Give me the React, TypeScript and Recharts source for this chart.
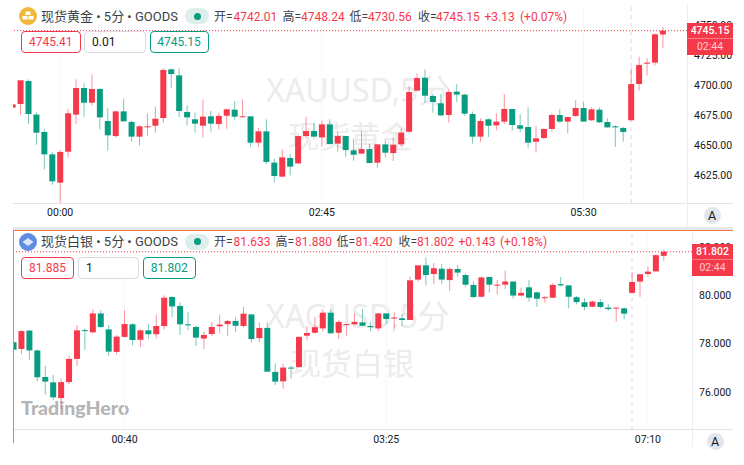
import { Bar, ComposedChart, ReferenceLine, XAxis, YAxis } from "recharts";

const RED = "#F6384B";
const GREEN = "#089C80";
const LINE = "#E0E3EB";
const TEXT = "#131722";
const UI_FONT = "Roboto, 'Noto Sans CJK SC', sans-serif";

// ── Gold, 5 min ──────────────────────────────────────────────────────
const goldOpen = [
  4681.2, 4684.2, 4703.3, 4675.4, 4661, 4642.4, 4618.9, 4644.6, 4675.4, 4697.5, 4685.3, 4696.7, 4670.1, 4657.6, 4678.1,
  4669.3, 4657.1, 4665.1, 4666.2, 4672.6, 4713, 4708, 4677.6, 4671.5, 4666.2, 4674, 4667.6, 4674.5, 4679.5, 4673.4, 4674,
  4652.1, 4661.5, 4635.5, 4623.9, 4639.4, 4634.9, 4657.6, 4661.8, 4656.5, 4667.3, 4651.3, 4657.6, 4645.7, 4643, 4646.8,
  4635.5, 4650.7, 4643.5, 4650.7, 4661.2, 4695.3, 4706.1, 4690.9, 4684.8, 4675.1, 4694.5, 4692, 4675.9, 4657.1, 4671.5,
  4666.5, 4669.6, 4680.1, 4666.5, 4665.1, 4652.9, 4656, 4663.5, 4675.1, 4669.6, 4674.3, 4680.9, 4670.7, 4679.5, 4669.3,
  4665.7, 4664.3, 4670.7, 4700.8, 4717.7, 4718.6, 4742.01,
];
const goldHigh = [
  4683.9, 4703.9, 4704.7, 4677.3, 4663.2, 4644.4, 4646, 4680.3, 4704.7, 4701.4, 4708.9, 4697.2, 4680.6, 4678.7, 4688.7,
  4670.4, 4666.5, 4676.5, 4682, 4713.8, 4713.8, 4713.8, 4683.1, 4677, 4688.1, 4678.4, 4677, 4680.3, 4686.7, 4688.1, 4674,
  4664.3, 4671.5, 4638.8, 4646.6, 4642.7, 4658.2, 4673.7, 4668.7, 4670.4, 4671.5, 4661, 4657.6, 4655.4, 4661.8, 4651,
  4650.7, 4654.3, 4656.5, 4664, 4699.2, 4709.7, 4713, 4692.5, 4692.5, 4696.7, 4700.6, 4692.5, 4677.9, 4672.3, 4672.3,
  4676.5, 4692.5, 4680.1, 4675.9, 4681.5, 4666, 4664, 4676.5, 4680.1, 4673.7, 4687.3, 4686.2, 4681.5, 4681.5, 4672.3,
  4666.8, 4665.4, 4713.8, 4723.5, 4722.2, 4742.9, 4748.24,
];
const goldLow = [
  4681.2, 4675.4, 4667.6, 4650.4, 4630, 4617.2, 4602, 4639.9, 4667.9, 4673.7, 4682.8, 4663.2, 4645.7, 4656.3, 4669.8,
  4652.9, 4649.6, 4657.6, 4660.4, 4668.7, 4697.8, 4673.4, 4666.5, 4660.4, 4656.5, 4661.2, 4662.9, 4663.7, 4671.2, 4673.4,
  4648.8, 4648.5, 4634.4, 4619.2, 4623.6, 4625, 4634.7, 4655.7, 4657.1, 4648.8, 4650.4, 4644.6, 4640.5, 4637.2, 4643,
  4635.2, 4631.3, 4639.9, 4636.9, 4648.8, 4661, 4694.7, 4685.3, 4677, 4674.3, 4668.7, 4685.9, 4674.5, 4651.3, 4652.9,
  4656.8, 4662.4, 4667.6, 4662.1, 4661, 4648, 4643.8, 4654.9, 4661.2, 4668.7, 4659.9, 4673.7, 4669.6, 4670.1, 4668.4,
  4664.8, 4648.5, 4652.9, 4670.7, 4695.3, 4707.8, 4716.1, 4730.56,
];
const goldClose = [
  4683.9, 4703.9, 4675.9, 4660.4, 4642.4, 4620, 4644.4, 4676.5, 4697.5, 4685.3, 4696.7, 4673.1, 4658.2, 4678.1, 4669.8,
  4657.1, 4665.7, 4665.7, 4672, 4712.5, 4709.1, 4678.4, 4673.1, 4667.9, 4673.7, 4667.9, 4674.3, 4679.8, 4673.7, 4674,
  4652.1, 4661.5, 4636.1, 4624.4, 4639.9, 4632.2, 4657.6, 4661.8, 4657.1, 4667.3, 4651, 4657.6, 4646, 4642.1, 4646.8,
  4635.2, 4650.7, 4643.8, 4650.4, 4660.4, 4694.2, 4705.8, 4691.1, 4685.9, 4674.8, 4694.2, 4692, 4676.2, 4657.1, 4670.1,
  4666.2, 4669.6, 4680.1, 4666.8, 4663.7, 4652.1, 4655.7, 4663.5, 4675.1, 4669.6, 4673.4, 4680.9, 4669.6, 4679.8, 4669,
  4664.8, 4664.8, 4661, 4700.8, 4716.6, 4718.6, 4742.1, 4745.15,
];
const goldPriceTicks = [4625, 4650, 4675, 4700, 4725, 4750];
const goldTimeIndex = [6, 39, 72];
const goldTimeLabels = ["00:00", "02:45", "05:30"];
const goldSessionIndex = 78;

// ── Silver, 5 min ────────────────────────────────────────────────────
const silverOpen = [
  78.06, 77.78, 78.54, 77.72, 76.62, 76.4, 75.75, 76.41, 77.37, 78.56, 78.47, 79.25, 78.59, 77.66, 78.28, 78.8, 78.16,
  78.55, 78.39, 78.73, 79.93, 79.56, 78.8, 78.69, 78.21, 78.4, 78.72, 78.81, 78.94, 78.73, 79.21, 78.23, 78.65, 76.83,
  76.44, 77.01, 77.03, 78.33, 78.45, 78.63, 79.28, 78.45, 78.79, 78.8, 78.88, 78.73, 78.63, 79.25, 79.05, 79.05, 78.98,
  80.65, 81.24, 80.88, 81.1, 80.63, 81.09, 80.84, 80.43, 79.94, 80.76, 80.41, 80.44, 80.57, 79.99, 80.33, 80.12, 79.89,
  79.9, 80.46, 80.41, 79.92, 79.71, 79.53, 79.72, 79.49, 79.45, 79.46, 80.1, 80.57, 80.88, 80.99, 81.633,
];
const silverHigh = [
  78.06, 78.55, 78.55, 77.76, 77.08, 76.7, 76.56, 77.5, 78.77, 78.63, 79.41, 79.39, 78.77, 78.36, 79.38, 78.84, 78.59,
  78.81, 79.19, 80, 79.96, 79.71, 79.3, 78.74, 78.5, 78.88, 79.19, 78.98, 79.09, 79.52, 79.21, 78.88, 78.88, 77.19, 77.17,
  77.1, 78.29, 78.72, 79.1, 79.42, 79.42, 78.97, 78.83, 79.25, 79.43, 78.91, 79.25, 79.25, 79.3, 79.21, 80.77, 81.25,
  81.57, 81.34, 81.3, 81.16, 81.25, 80.91, 80.57, 80.77, 80.77, 80.63, 81.02, 80.57, 80.32, 80.63, 80.15, 79.97, 80.5,
  80.76, 80.43, 79.97, 79.88, 79.78, 79.85, 79.63, 79.49, 79.5, 80.95, 80.9, 81.19, 81.7, 81.88,
];
const silverLow = [
  77.75, 77.57, 77.34, 76.43, 75.9, 75.65, 75.3, 76.32, 77.08, 77.74, 78.43, 78.63, 77.49, 77.56, 78.25, 77.92, 77.86,
  78.19, 78.22, 78.59, 79.1, 78.36, 78.56, 77.9, 77.78, 78.33, 78.45, 78.33, 78.48, 78.66, 78.06, 78.06, 76.84, 76.29,
  76.14, 76.55, 77.02, 78.14, 78.41, 78.5, 78.41, 78.19, 78.33, 78.77, 78.74, 78.5, 78.52, 78.81, 78.63, 78.73, 78.98,
  80.57, 80.4, 80.47, 80.47, 80.18, 80.77, 80.36, 79.88, 79.92, 80.11, 80.04, 80.25, 79.86, 79.96, 79.74, 79.52, 79.7,
  79.88, 80.36, 79.46, 79.63, 79.39, 79.5, 79.46, 79.37, 78.91, 79.02, 80.08, 79.93, 80.77, 80.98, 81.42,
];
const silverClose = [
  77.75, 78.52, 77.72, 76.61, 76.43, 75.78, 76.41, 77.37, 78.55, 78.54, 79.25, 78.69, 77.67, 78.29, 78.81, 78.15, 78.55,
  78.39, 78.73, 79.9, 79.54, 78.8, 78.76, 78.25, 78.36, 78.69, 78.79, 78.94, 78.74, 79.24, 78.19, 78.65, 76.84, 76.43,
  77.01, 76.97, 78.28, 78.44, 78.68, 79.28, 78.43, 78.9, 78.81, 78.9, 78.74, 78.68, 79.25, 79.02, 79.08, 78.98, 80.62,
  81.24, 80.84, 81.12, 80.65, 81.09, 80.94, 80.44, 79.93, 80.74, 80.44, 80.44, 80.57, 79.99, 80.1, 79.9, 79.86, 79.92,
  80.43, 80.41, 79.94, 79.72, 79.52, 79.74, 79.52, 79.43, 79.49, 79.24, 80.55, 80.87, 80.98, 81.66, 81.802,
];
const silverPriceTicks = [76, 78, 80, 82];
const silverTimeIndex = [14, 47, 80];
const silverTimeLabels = ["00:40", "03:25", "07:10"];
const silverSessionIndex = 78;

function buildRows(open: number[], high: number[], low: number[], close: number[]) {
  return open.map((o, i) => ({ i, open: o, high: high[i], low: low[i], close: close[i], range: [low[i], high[i]] }));
}

// The Bar spans low→high, so its box gives us px per price unit for the body.
function Candle(props: any) {
  const { x, y, width, height, payload } = props;
  const { open, high, low, close } = payload;
  const top = Math.min(y, y + height);
  const pxPerUnit = Math.abs(height) / (high - low);
  const yOf = (v: number) => top + (high - v) * pxPerUnit;
  const color = close >= open ? RED : GREEN;
  const bodyTop = yOf(Math.max(open, close));
  const bodyH = Math.max(1, Math.abs(open - close) * pxPerUnit);
  const mid = x + width / 2;
  return (
    <g>
      <line x1={mid} x2={mid} y1={top} y2={top + Math.abs(height)} stroke={color} strokeOpacity={0.55} strokeWidth={1} />
      <rect x={x} y={bodyTop} width={width} height={bodyH} fill={color} />
    </g>
  );
}

function CandlePanel(props: {
  rows: ReturnType<typeof buildRows>;
  domain: [number, number];
  priceTicks: number[];
  decimals: number;
  timeIndex: number[];
  timeLabels: string[];
  sessionIndex: number;
  last: number;
  top: number;
  height: number;
  marginLeft: number;
  axisWidth: number;
  paddingRight: number;
  axisHeight: number;
}) {
  const p = props;
  return (
    <div style={{ position: "absolute", left: 13, top: p.top, width: 720, height: p.height, overflow: "hidden" }}>
      <ComposedChart
        width={720}
        height={p.height}
        data={p.rows}
        margin={{ top: 0, right: 0, bottom: 0, left: p.marginLeft }}
      >
        <XAxis
          dataKey="i"
          type="category"
          ticks={p.timeIndex}
          interval={0}
          height={p.axisHeight}
          padding={{ left: 0, right: p.paddingRight }}
          axisLine={false}
          tickLine={false}
          tickSize={0}
          tickMargin={6}
          tick={{ fontSize: 10.5, fontFamily: "Roboto", fill: TEXT }}
          tickFormatter={(v: number) => p.timeLabels[p.timeIndex.indexOf(v)]}
        />
        <YAxis
          orientation="right"
          type="number"
          domain={p.domain}
          allowDataOverflow
          ticks={p.priceTicks}
          interval={0}
          width={p.axisWidth}
          axisLine={false}
          tickLine={false}
          tickSize={0}
          tickMargin={7}
          tick={{ fontSize: 10.5, fontFamily: "Roboto", fill: TEXT }}
          tickFormatter={(v: number) => v.toFixed(p.decimals)}
        />
        {p.timeIndex.map((t) => (
          <ReferenceLine key={t} x={t} stroke="#F7F8FA" zIndex={100} />
        ))}
        <ReferenceLine x={p.sessionIndex} stroke="#D6D9E1" strokeDasharray="4 4" zIndex={100} />
        <Bar dataKey="range" barSize={6} shape={Candle} isAnimationActive={false} />
        <ReferenceLine y={p.last} stroke={RED} strokeDasharray="1 2" />
      </ComposedChart>
    </div>
  );
}

function Abs(props: { x: number; y: number; color?: string; size?: number; weight?: number; children: any }) {
  // y is the text's vertical centre
  return (
    <span
      style={{
        position: "absolute",
        left: props.x,
        top: props.y - 10,
        lineHeight: "20px",
        whiteSpace: "nowrap",
        fontFamily: UI_FONT,
        fontSize: props.size ?? 12,
        fontWeight: props.weight ?? 400,
        color: props.color ?? "#3A3F4A",
      }}
    >
      {props.children}
    </span>
  );
}

function Box(props: { x: number; y: number; w: number; color: string; textColor: string; align?: "left"; children: any }) {
  return (
    <div
      style={{
        position: "absolute",
        left: props.x,
        top: props.y,
        width: props.w,
        height: 22,
        boxSizing: "border-box",
        border: `1px solid ${props.color}`,
        borderRadius: 4,
        background: "#fff",
        color: props.textColor,
        fontFamily: UI_FONT,
        fontSize: 12,
        lineHeight: "20px",
        textAlign: props.align ?? "center",
        paddingLeft: props.align === "left" ? 7 : 0,
      }}
    >
      {props.children}
    </div>
  );
}

function PriceTag(props: { x: number; y: number; w: number; price: string; timer: string }) {
  return (
    <div
      style={{
        position: "absolute",
        left: props.x,
        top: props.y,
        width: props.w,
        height: 32,
        background: RED,
        color: "#fff",
        fontFamily: "Roboto",
        fontSize: 10.5,
        textAlign: "center",
      }}
    >
      <div style={{ height: 15.5, lineHeight: "15.5px", fontWeight: 500, borderBottom: "1px solid rgba(255,255,255,0.35)" }}>
        {props.price}
      </div>
      <div style={{ height: 15.5, lineHeight: "15.5px", color: "rgba(255,255,255,0.75)" }}>{props.timer}</div>
    </div>
  );
}

function AutoButton(props: { x: number; y: number }) {
  return (
    <div
      style={{
        position: "absolute",
        left: props.x - 8.5,
        top: props.y - 8.5,
        width: 17,
        height: 17,
        borderRadius: "50%",
        background: "#E3E5EC",
        color: TEXT,
        fontFamily: "Roboto",
        fontSize: 12.5,
        lineHeight: "17px",
        textAlign: "center",
      }}
    >
      A
    </div>
  );
}

function StatusPill(props: { y: number }) {
  return (
    <div style={{ position: "absolute", left: 185, top: props.y - 8, width: 24, height: 16, borderRadius: 8, background: "#DCEFEA" }}>
      <div style={{ position: "absolute", left: 8.5, top: 4.5, width: 7, height: 7, borderRadius: "50%", background: GREEN }} />
    </div>
  );
}

function Watermark(props: { x1: number; y1: number; line1: string; x2: number; y2: number; line2: string }) {
  const style = {
    position: "absolute" as const,
    whiteSpace: "nowrap" as const,
    color: "#ECECEC",
    fontFamily: "'Noto Sans', 'Noto Sans CJK SC', sans-serif",
    lineHeight: "40px",
  };
  return (
    <>
      <div style={{ ...style, left: props.x1, top: props.y1 - 20, fontSize: 32 }}>{props.line1}</div>
      <div style={{ ...style, left: props.x2, top: props.y2 - 20, fontSize: 31 }}>{props.line2}</div>
    </>
  );
}

const goldRows = buildRows(goldOpen, goldHigh, goldLow, goldClose);
const silverRows = buildRows(silverOpen, silverHigh, silverLow, silverClose);

export default function App() {
  return (
    <div style={{ position: "absolute", left: 0, top: 0, width: 744, height: 465, background: "#fff", overflow: "hidden" }}>
      {/* gold panel */}
      <Watermark x1={266} y1={90} line1="XAUUSD,5分" x2={288} y2={136} line2="现货黄金" />
      <div style={{ position: "absolute", left: 13, top: 203, width: 720, height: 1, background: LINE }} />
      <div style={{ position: "absolute", left: 686.5, top: 5, width: 1, height: 221, background: "#EBEDF2" }} />
      <CandlePanel
        rows={goldRows}
        domain={[4602, 4766.45]}
        priceTicks={goldPriceTicks}
        decimals={2}
        timeIndex={goldTimeIndex}
        timeLabels={goldTimeLabels}
        sessionIndex={goldSessionIndex}
        last={4745.15}
        top={5}
        height={221}
        marginLeft={-4.365}
        axisWidth={46}
        paddingRight={20.175}
        axisHeight={23}
      />
      <svg style={{ position: "absolute", left: 19, top: 7 }} width={18} height={18}>
        <circle cx={9} cy={9} r={9} fill="#F1B93B" />
        <rect x={6.5} y={4.5} width={5} height={3.5} fill="#fff" />
        <rect x={3.5} y={9} width={5} height={3.5} fill="#fff" />
        <rect x={9.5} y={9} width={5} height={3.5} fill="#fff" />
      </svg>
      <Abs x={41} y={16.5} size={13}>现货黄金 • 5分 • GOODS</Abs>
      <StatusPill y={16} />
      <Abs x={214} y={16.5}>开=</Abs>
      <Abs x={233.5} y={16.5} color={RED}>4742.01</Abs>
      <Abs x={282.5} y={16.5}>高=</Abs>
      <Abs x={301} y={16.5} color={RED}>4748.24</Abs>
      <Abs x={349.5} y={16.5}>低=</Abs>
      <Abs x={368} y={16.5} color={RED}>4730.56</Abs>
      <Abs x={418} y={16.5}>收=</Abs>
      <Abs x={436} y={16.5} color={RED}>4745.15</Abs>
      <Abs x={484.5} y={16.5} color={RED}>+3.13</Abs>
      <Abs x={520} y={16.5} color={RED}>(+0.07%)</Abs>
      <Box x={21} y={30.5} w={59.5} color={RED} textColor={RED}>4745.41</Box>
      <Box x={84} y={30.5} w={61.5} color="#D8DBE4" textColor={TEXT} align="left">0.01</Box>
      <Box x={149.5} y={30.5} w={59} color={GREEN} textColor={GREEN}>4745.15</Box>
      <PriceTag x={687} y={22.5} w={46} price="4745.15" timer="02:44" />
      <AutoButton x={712} y={215} />

      {/* divider between the panels */}
      <div style={{ position: "absolute", left: 13, top: 226.5, width: 720, height: 3, background: "#E6E8EE" }} />

      {/* silver panel */}
      <Watermark x1={266} y1={316} line1="XAGUSD,5分" x2={290} y2={363} line2="现货白银" />
      <div style={{ position: "absolute", left: 13, top: 429, width: 720, height: 1, background: LINE }} />
      <div style={{ position: "absolute", left: 691.5, top: 231, width: 1, height: 216, background: "#EBEDF2" }} />
      <div
        style={{
          position: "absolute",
          left: 21,
          top: 396,
          lineHeight: "24px",
          fontFamily: "Lato, sans-serif",
          fontWeight: 900,
          fontSize: 19.5,
          color: "#B5B5B5",
        }}
      >
        TradingHero
      </div>
      <CandlePanel
        rows={silverRows}
        domain={[74.457, 82.66]}
        priceTicks={silverPriceTicks}
        decimals={3}
        timeIndex={silverTimeIndex}
        timeLabels={silverTimeLabels}
        sessionIndex={silverSessionIndex}
        last={81.802}
        top={231}
        height={216}
        marginLeft={-3.465}
        axisWidth={41}
        paddingRight={24.275}
        axisHeight={17.7}
      />
      <div style={{ position: "absolute", left: 13, top: 229.5, width: 720, height: 1.5, background: "#F47B47" }} />
      <div style={{ position: "absolute", left: 13, top: 230, width: 1, height: 213, background: "#F47B47" }} />
      <svg style={{ position: "absolute", left: 19, top: 233 }} width={18} height={18}>
        <circle cx={9} cy={9} r={9} fill="#5E8DE3" />
        <path d="M3.5 9 L9 5 L14.5 9 L9 13 Z" fill="#DCE7FA" />
      </svg>
      <Abs x={41} y={242} size={13}>现货白银 • 5分 • GOODS</Abs>
      <StatusPill y={241.5} />
      <Abs x={214} y={242}>开=</Abs>
      <Abs x={233.5} y={242} color={RED}>81.633</Abs>
      <Abs x={275.5} y={242}>高=</Abs>
      <Abs x={295} y={242} color={RED}>81.880</Abs>
      <Abs x={336.5} y={242}>低=</Abs>
      <Abs x={355.5} y={242} color={RED}>81.420</Abs>
      <Abs x={398.5} y={242}>收=</Abs>
      <Abs x={417} y={242} color={RED}>81.802</Abs>
      <Abs x={458.5} y={242} color={RED}>+0.143</Abs>
      <Abs x={500} y={242} color={RED}>(+0.18%)</Abs>
      <Box x={21} y={256.5} w={53} color={RED} textColor={RED}>81.885</Box>
      <Box x={78} y={256.5} w={60.5} color="#D8DBE4" textColor={TEXT} align="left">1</Box>
      <Box x={143} y={256.5} w={52.5} color={GREEN} textColor={GREEN}>81.802</Box>
      <PriceTag x={692} y={243.5} w={41} price="81.802" timer="02:44" />
      <AutoButton x={715} y={441} />
    </div>
  );
}
